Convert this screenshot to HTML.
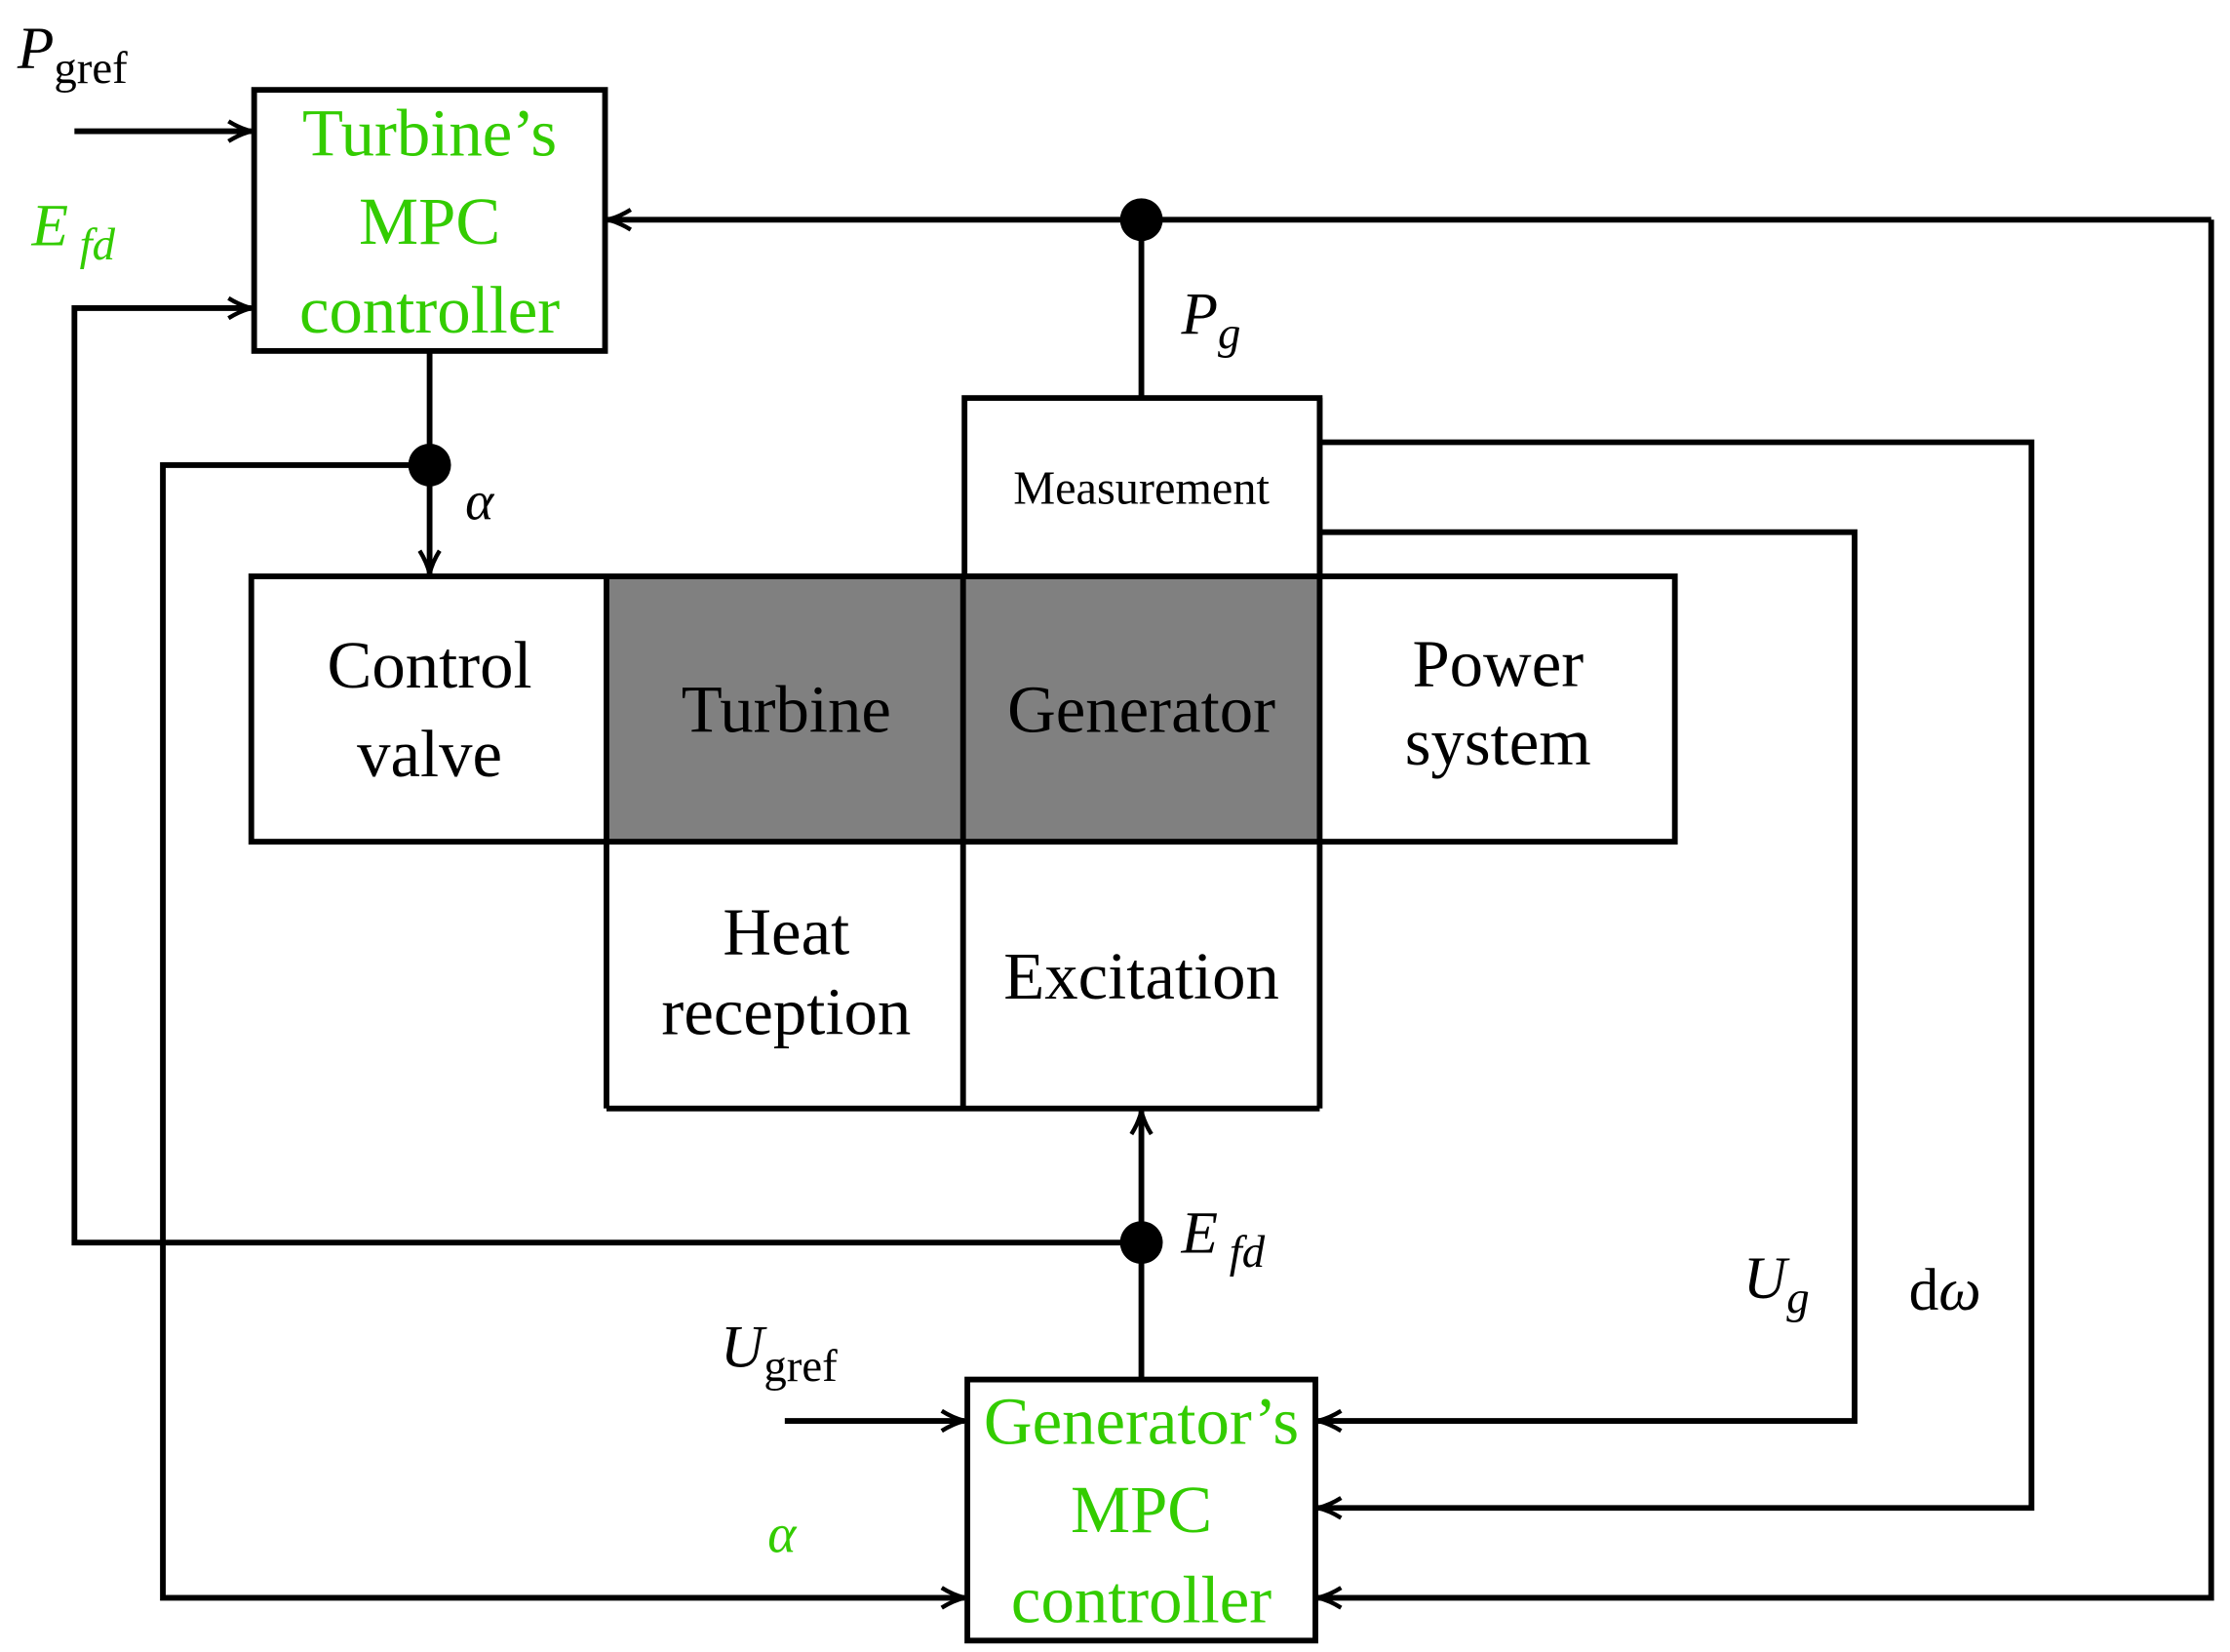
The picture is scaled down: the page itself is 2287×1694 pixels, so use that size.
<!DOCTYPE html>
<html><head><meta charset="utf-8"><style>
html,body{margin:0;padding:0;background:#fff;}
svg{display:block;}
text{font-family:"Liberation Serif",serif;}
</style></head><body>
<svg width="2287" height="1694" viewBox="0 0 1563 1158" xmlns="http://www.w3.org/2000/svg">
<defs>
<marker id="a" markerWidth="22" markerHeight="18" refX="20" refY="9" orient="auto" markerUnits="userSpaceOnUse" viewBox="0 0 22 18">
<path d="M4,2 Q12,7 20,9 Q12,11 4,16" fill="none" stroke="#000" stroke-width="3"/>
</marker>
</defs>
<g stroke="#000" stroke-width="4" fill="none">
<rect x="425" y="404" width="500" height="186" fill="#808080" stroke="none"/>
<rect x="176" y="404" width="998" height="186"/>
<line x1="425" y1="404" x2="425" y2="777"/>
<line x1="675" y1="404" x2="675" y2="777"/>
<line x1="925" y1="279" x2="925" y2="777"/>
<line x1="425" y1="777" x2="925" y2="777"/>
<rect x="676" y="279" width="249" height="125"/>
<rect x="178" y="63" width="246" height="183"/>
<rect x="678" y="967" width="244" height="183"/>
<line x1="52" y1="92" x2="176" y2="92" marker-end="url(#a)"/>
<polyline points="800,871 52,871 52,216 176,216" marker-end="url(#a)"/>
<polyline points="1550,154 1550,1120 924,1120" marker-end="url(#a)"/>
<line x1="1550" y1="154" x2="426" y2="154" marker-end="url(#a)"/>
<line x1="800" y1="154" x2="800" y2="279"/>
<polyline points="925,310 1424,310 1424,1057 924,1057" marker-end="url(#a)"/>
<polyline points="925,373 1300,373 1300,996 924,996" marker-end="url(#a)"/>
<line x1="301" y1="246" x2="301" y2="402" marker-end="url(#a)"/>
<polyline points="301,326 114,326 114,1120 676,1120" marker-end="url(#a)"/>
<line x1="800" y1="967" x2="800" y2="779" marker-end="url(#a)"/>
<line x1="550" y1="996" x2="676" y2="996" marker-end="url(#a)"/>
</g>
<g fill="#000">
<circle cx="800" cy="154" r="15"/>
<circle cx="301" cy="326" r="15"/>
<circle cx="800" cy="871" r="15"/>
</g>
<g font-size="47" text-anchor="middle" fill="#000">
<text x="301" y="482">Control</text>
<text x="301" y="544">valve</text>
<text x="551" y="513">Turbine</text>
<text x="800" y="513">Generator</text>
<text x="1050" y="481">Power</text>
<text x="1050" y="536">system</text>
<text x="551" y="669">Heat</text>
<text x="551" y="725">reception</text>
<text x="800" y="700">Excitation</text>
<text x="800" y="353" font-size="33">Measurement</text>
</g>
<g font-size="47" text-anchor="middle" fill="#33cc00">
<text x="301" y="109">Turbine’s</text>
<text x="301" y="171">MPC</text>
<text x="301" y="233">controller</text>
<text x="800" y="1012">Generator’s</text>
<text x="800" y="1074">MPC</text>
<text x="800" y="1137">controller</text>
</g>
<g font-size="42" font-style="italic" fill="#000">
<text x="12" y="48">P<tspan font-size="32" font-style="normal" dy="10">gref</tspan></text>
<text x="505" y="958">U<tspan font-size="32" font-style="normal" dy="10">gref</tspan></text>
<text x="326" y="364" font-size="38">α</text>
<text x="828" y="234">P<tspan font-size="32" dy="10">g</tspan></text>
<text x="828" y="878">E<tspan font-size="32" dy="10"> fd</tspan></text>
<text x="1222" y="910">U<tspan font-size="32" dy="10">g</tspan></text>
<text x="1338" y="918"><tspan font-style="normal">d</tspan>ω</text>
<text x="22" y="172" fill="#33cc00">E<tspan font-size="32" dy="10"> fd</tspan></text>
<text x="538" y="1088" font-size="38" fill="#33cc00">α</text>
</g>
</svg>
</body></html>
